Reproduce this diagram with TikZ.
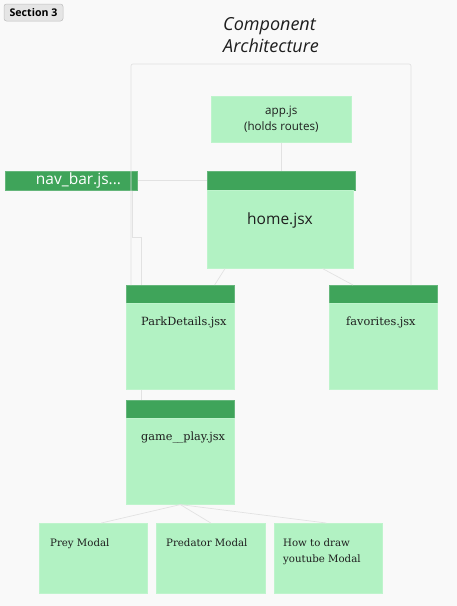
\documentclass[tikz,border=0pt]{standalone}
\usepackage{fontspec}
\setmainfont{DejaVu Serif}
\setsansfont{Open Sans}
\definecolor{canvas}{HTML}{F9F9F9}
\definecolor{cardgreen}{HTML}{B2F2C3}
\definecolor{bargreen}{HTML}{3FA45A}
\definecolor{wiregray}{HTML}{E2E2E2}
\definecolor{inkgray}{HTML}{1E1E1E}
\tikzset{
  card/.style={fill=cardgreen,draw=cardgreen!85!white,line width=0.6pt,inner sep=0pt,anchor=north west},
  bar/.style={fill=bargreen,draw=bargreen!80!white,line width=0.6pt,inner sep=0pt,anchor=north west,minimum height=19pt},
  wire/.style={draw=wiregray,line width=0.7pt},
  cardtext/.style={text=inkgray,font=\fontsize{11.3}{16}\selectfont,align=left,anchor=north west,inner sep=0pt},
  modaltext/.style={cardtext,font=\fontsize{10.2}{16}\selectfont},
  apptext/.style={text=inkgray,font=\sffamily\fontsize{11.6}{16}\selectfont,align=center}
}
\begin{document}
\begin{tikzpicture}[x=1pt,y=-1pt]
  \fill[canvas] (0,0) rectangle (457,606);
  \useasboundingbox (0,0) rectangle (457,606);
  % section tag and title
  \node[fill=gray!20,draw=gray!50,rounded corners=2.5pt,line width=0.5pt,minimum width=59pt,minimum height=17pt,inner sep=0pt,
        font=\sffamily\bfseries\fontsize{10.6}{12}\selectfont] (tag) at (33.5,12.5) {Section 3};
  \node[font=\sffamily\itshape\fontsize{18}{22}\selectfont,align=left,anchor=north west,inner sep=0pt,text=inkgray] (title) at (223,17)
        {Component\\Architecture};
  % boxes
  \node[card,minimum width=140pt,minimum height=46pt] (app) at (211,96) {};
  \node[apptext] (apptxt) at (app.center) {app.js\\(holds routes)};
  \node[bar,minimum width=132pt] (nav) at (5,171) {};
  \node[text=white,font=\sffamily\fontsize{15.5}{17}\selectfont,inner sep=0pt] (navtxt) at (78.5,180.5) {nav\_bar.js...};
  \node[bar,minimum width=148pt] (homebar) at (207,171) {};
  \node[card,minimum width=146pt,minimum height=78pt] (home) at (207,190) {};
  \node[text=inkgray,font=\sffamily\fontsize{15.5}{17}\selectfont,inner sep=0pt] (hometxt) at (280,220) {home.jsx};
  \node[bar,minimum width=108pt,minimum height=18pt] (parkbar) at (126,285) {};
  \node[card,minimum width=108pt,minimum height=86pt] (park) at (126,303) {};
  \node[cardtext] (parktxt) at (141,317) {ParkDetails.jsx};
  \node[bar,minimum width=108pt,minimum height=18pt] (favbar) at (329,285) {};
  \node[card,minimum width=108pt,minimum height=86pt] (fav) at (329,303) {};
  \node[cardtext] (favtxt) at (346,317) {favorites.jsx};
  \node[bar,minimum width=108pt,minimum height=18pt] (gamebar) at (126,400) {};
  \node[card,minimum width=108pt,minimum height=86pt] (game) at (126,418) {};
  \node[cardtext] (gametxt) at (141,432) {game\_\kern-0.6pt\_play.jsx};
  \node[card,minimum width=108pt,minimum height=70pt] (prey) at (39,523) {};
  \node[modaltext] (preytxt) at (50,539) {Prey Modal};
  \node[card,minimum width=109pt,minimum height=70pt] (pred) at (156,523) {};
  \node[modaltext] (predtxt) at (166,539) {Predator Modal};
  \node[card,minimum width=108pt,minimum height=70pt] (howto) at (274,523) {};
  \node[modaltext] (howtxt) at (283,539) {How to draw\\youtube Modal};
  % connectors
  \draw[wire,rounded corners=2pt] (parkbar.north west) ++(5,0) coordinate (pk) -- (pk |- 0,64) -- (411,64) coordinate (tr) -- (tr |- favbar.north);
  \draw[wire] (app.south) -- (homebar.north -| app.south);
  \draw[wire] (nav.east) -- (homebar.west);
  \draw[wire] (nav.south east) ++(-5,0) -- ++(0,47) -- ++(9,0) coordinate (nk) -- (nk |- parkbar.north);
  \draw[wire] (home.south west) ++(18,0) -- ([xshift=-20pt]parkbar.north east);
  \draw[wire] (home.south east) ++(-31,0) -- ([xshift=24pt]favbar.north west);
  \draw[wire] (park.south west) ++(15,0) -- ([xshift=15pt]gamebar.north west);
  \draw[wire] (game.south) -- ([xshift=8pt]prey.north);
  \draw[wire] (game.south) -- (pred.north);
  \draw[wire] (game.south) -- ([xshift=-2pt]howto.north);
\end{tikzpicture}
\end{document}
